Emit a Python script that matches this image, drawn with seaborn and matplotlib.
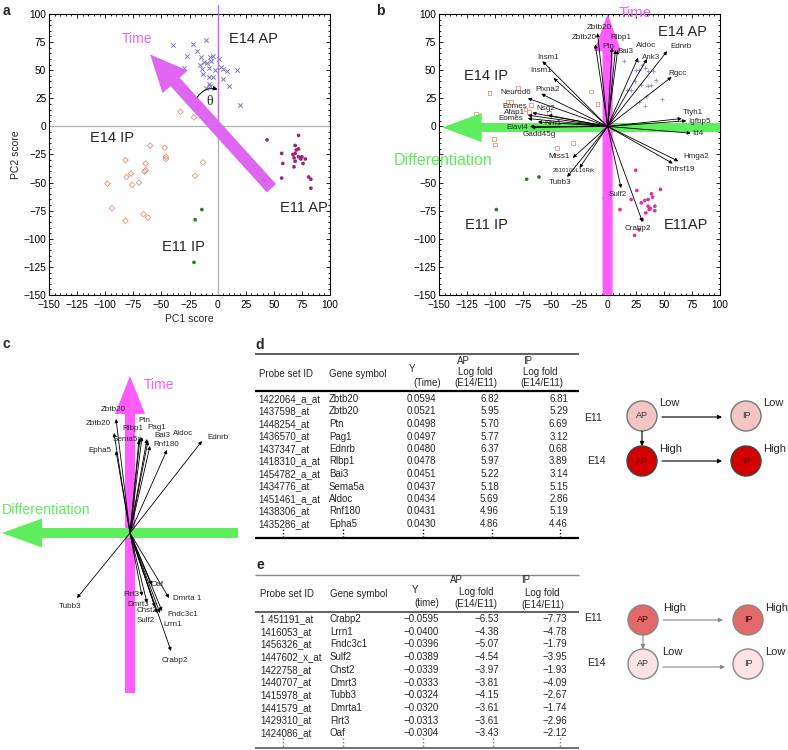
import numpy as np
import pandas as pd
import matplotlib
matplotlib.use('Agg')
import matplotlib.pyplot as plt
import seaborn as sns
from matplotlib.patches import Circle
from matplotlib.ticker import MultipleLocator

# %%
######################################################### data
# panel a : PCA scores
e14ap_a_x = [-40, -22, -10, -18, -15, -27, -7, -12, -9, -4, -6, -30, -14, -16, -8, -2, 1, 3, 5, 8, -13, -8, -4, 5, 17, 10, -7, -10, 20, -8]
e14ap_a_y = [72, 73, 77, 67, 62, 63, 62, 57, 56, 63, 58, 52, 51, 55, 52, 50, 60, 53, 51, 49, 47, 44, 44, 42, 50, 36, 36, 34, 19, 38]
e14ip_a_x = [-33, -21, -16, -47, -60, -46, -46, -13, -20, -82, -64, -64, -65, -77, -81, -76, -70, -98, -94, -66, -62, -82]
e14ip_a_y = [13, 8, 20, -19, -17, -27, -29, -32, -44, -30, -33, -39, -40, -42, -45, -52, -50, -51, -73, -78, -81, -84]
e11ap_a_x = [44, 72, 57, 58, 69, 70, 68, 69, 72, 72, 74, 75, 78, 76, 68, 57, 81, 83, 83, 41, 69, 67]
e11ap_a_y = [-12, -8, -24, -33, -17, -21, -28, -24, -20, -27, -29, -27, -29, -33, -36, -46, -45, -47, -55, -48, -31, -25]
e11ip_a_x = [-14, -20, -21]
e11ip_a_y = [-74, -83, -121]

# panel b : biplot scores
e14ap_b_x = [15, 25, 28, 33, 36, 40, 43, 48, 24, 30, 36, 39, 34, 28, 33, 17, 21, 27, 31]
e14ap_b_y = [58, 50, 50, 52, 49, 49, 41, 24, 40, 37, 36, 37, 27, 22, 18, 32, 32, 58, 55]
e14ip_b_x = [-80, -105, -89, -86, -68, -73, -70, -52, -15, -9, -117, -101, -100, -45, -31, -116]
e14ip_b_y = [34, 30, 22, 22, 19, 15, 13, 12, 31, 20, 11, -11, -16, -19, -15, -5]
e11ap_b_x = [25, 26, -3, 21, 11, 30, 33, 36, 39, 40, 36, 38, 42, 34, 42, 47, 31, 24, 28, 37]
e11ap_b_y = [-39, -57, -64, -65, -74, -68, -66, -65, -60, -63, -71, -73, -71, -77, -75, -56, -83, -97, -92, -74]
e11ip_b_x = [-72, -61, -99]
e11ip_b_y = [-47, -45, -74]

# panel b : gene loadings (tips)
genes_b = ['Zbtb20', 'Zbtb20', 'Ptn', 'Rlbp1', 'Bai3', 'Aldoc', 'Ank3', 'Ednrb', 'Rgcc', 'Ttyh1',
           'Igfbp5', 'Id4', 'Hmga2', 'Tnfrsf19', 'Crabp2', 'Sulf2', 'Tubb3', '2610100L16Rik', 'Mtss1',
           'Gadd45g', 'Elavl4', 'Eomes', 'Eomes', 'Afap1', 'Nsg2', 'Nrn1', 'Neurod6', 'Plxna2', 'Insm1', 'Insm1']
load_b_x = [-9, -11, 4, 7, 9, 27, 35, 53, 57, 66, 70, 74, 63, 58, 31, 12, -36, -25, -31,
            -68, -69, -71, -71, -67, -53, -62, -71, -59, -58, -48]
load_b_y = [83, 73, 70, 68, 68, 61, 60, 67, 44, 7, 5, -6, -31, -33, -85, -55, -45, -37, -28,
            -1, 0, 10, 7, 12, 10, 4, 25, 29, 58, 43]
# label placement (layout)
lab_b = [(-7, 88), (-21, 79), (1, 71), (12, 79), (16, 67), (34, 72), (39, 61), (65, 71), (62, 47), (76, 12),
         (82, 4), (80, -6), (79, -27), (65, -38), (27, -91), (9, -61), (-42, -50), (-30, -39), (-43, -27),
         (-61, -7), (-80, -1), (-83, 18), (-86, 7), (-83, 12), (-55, 16), (-49, 3), (-82, 30), (-53, 33), (-53, 61), (-59, 50)]

# panel c : selected gene loadings
genes_c = ['Zbtb20', 'Zbtb20', 'Epha5', 'Sema5a', 'Rlbp1', 'Ptn', 'Pag1', 'Bai3', 'Rnf180', 'Aldoc', 'Ednrb',
           'Tubb3', 'Flrt3', 'Oaf', 'Dmrta 1', 'Dmrt3', 'Chst2', 'Fndc3c1', 'Lrrn1', 'Sulf2', 'Crabp2']
load_c_x = [-14, -16, -14, 9, 10, 12, 17, 18, 20, 37, 72, -53, 12, 22, 39, 17, 25, 32, 30, 27, 41]
load_c_y = [114, 100, 82, 93, 95, 96, 94, 92, 87, 83, 92, -65, -63, -52, -65, -70, -74, -78, -80, -80, -118]
lab_c = [(-17, 123), (-32, 109), (-30, 82), (-2, 93), (3, 104), (14, 112), (27, 105), (32, 97), (36, 88), (53, 99), (88, 95),
         (-60, -73), (1, -62), (27, -52), (57, -66), (8, -72), (17, -78), (53, -81), (43, -91), (16, -88), (45, -128)]

# tables d / e
probe_d = ['1422064_a_at', '1437598_at', '1448254_at', '1436570_at', '1437347_at', '1418310_a_at',
           '1454782_a_at', '1434776_at', '1451461_a_at', '1438306_at', '1435286_at']
gene_d = ['Zbtb20', 'Zbtb20', 'Ptn', 'Pag1', 'Ednrb', 'Rlbp1', 'Bai3', 'Sema5a', 'Aldoc', 'Rnf180', 'Epha5']
y_d = [0.0594, 0.0521, 0.0498, 0.0497, 0.0480, 0.0478, 0.0451, 0.0437, 0.0434, 0.0431, 0.0430]
ap_d = [6.82, 5.95, 5.70, 5.77, 6.37, 5.97, 5.22, 5.18, 5.69, 4.96, 4.86]
ip_d = [6.81, 5.29, 6.69, 3.12, 0.68, 3.89, 3.14, 5.15, 2.86, 5.19, 4.46]

probe_e = ['1 451191_at', '1416053_at', '1456326_at', '1447602_x_at', '1422758_at', '1440707_at',
           '1415978_at', '1441579_at', '1429310_at', '1424086_at']
gene_e = ['Crabp2', 'Lrrn1', 'Fndc3c1', 'Sulf2', 'Chst2', 'Dmrt3', 'Tubb3', 'Dmrta1', 'Flrt3', 'Oaf']
y_e = [-0.0595, -0.0400, -0.0396, -0.0389, -0.0339, -0.0333, -0.0324, -0.0320, -0.0313, -0.0304]
ap_e = [-6.53, -4.38, -5.07, -4.54, -3.97, -3.81, -4.15, -3.61, -3.61, -3.43]
ip_e = [-7.73, -4.78, -1.79, -3.95, -1.93, -4.09, -2.67, -1.74, -2.96, -2.12]

# %%
######################################################### setup
sns.set_theme(style='white')
plt.rcParams['font.family'] = ['Liberation Sans', 'DejaVu Sans']

W, H = 788, 750
fig = plt.figure(figsize=(W / 100, H / 100), dpi=100)


def rect(l, t, r, b):
    return [l / W, 1 - b / H, (r - l) / W, (b - t) / H]


MAG = '#ff5cff'
GRN = '#5ded5d'


def scatter_group(ax, xs, ys, marker, color, s, hollow=False):
    df = pd.DataFrame({'x': xs, 'y': ys})
    if hollow:
        sns.scatterplot(data=df, x='x', y='y', ax=ax, marker=marker, s=s,
                        facecolors='none', edgecolor=color, linewidth=0.6, zorder=3)
    elif marker in ('x', '+'):
        sns.scatterplot(data=df, x='x', y='y', ax=ax, marker=marker, s=s,
                        color=color, linewidth=0.7, zorder=3)
    else:
        sns.scatterplot(data=df, x='x', y='y', ax=ax, marker=marker, s=s,
                        color=color, edgecolor='none', zorder=3)


def style_pc(ax):
    ax.set_xlim(-150, 100)
    ax.set_ylim(-150, 100)
    ax.set_xticks(np.arange(-150, 101, 25))
    ax.set_yticks(np.arange(-150, 101, 25))
    ax.xaxis.set_minor_locator(MultipleLocator(5))
    ax.yaxis.set_minor_locator(MultipleLocator(5))
    ax.tick_params(which='both', direction='in', top=True, right=True, bottom=True, left=True,
                   labelsize=7.3, pad=2, colors='black', width=0.6)
    ax.tick_params(axis='x', which='major', pad=3.5)
    ax.tick_params(which='major', length=3)
    ax.tick_params(which='minor', length=1.5)
    for sp in ax.spines.values():
        sp.set_color('black')
        sp.set_linewidth(0.8)
    ax.set_xlabel('')
    ax.set_ylabel('')


def draw_vectors(ax, xs, ys, names, labs, fs):
    for x, y, n, (lx, ly) in zip(xs, ys, names, labs):
        ax.annotate('', xy=(x, y), xytext=(0, 0),
                    arrowprops=dict(arrowstyle='-|>', lw=0.6, color='black',
                                    mutation_scale=5, shrinkA=0, shrinkB=0), zorder=6)
        ax.text(lx, ly, n, fontsize=fs if len(n) < 10 else fs - 1.5, ha='center', va='center', zorder=7)


# %%
######################################################### panel a
ax_a = fig.add_axes(rect(49, 14, 330, 295))
ax_a.axhline(0, color='#b0b0b0', lw=0.9, zorder=1)
ax_a.axvline(0, color='#b0b0b0', lw=0.9, zorder=1)
scatter_group(ax_a, e14ap_a_x, e14ap_a_y, 'x', '#7a7ab8', 10)
scatter_group(ax_a, e14ip_a_x, e14ip_a_y, 'D', '#e8907a', 8, hollow=True)
scatter_group(ax_a, e11ap_a_x, e11ap_a_y, 'o', '#a0207a', 7)
scatter_group(ax_a, e11ip_a_x, e11ip_a_y, 'o', '#2a7a2a', 7)
style_pc(ax_a)
ax_a.arrow(48, -55, -108, 119, width=11, head_width=30, head_length=33,
           length_includes_head=True, fc='#dd5ef0', ec='none', alpha=0.95, zorder=4)
ax_a.plot([0, 0], [6, 108], color='#cc66ee', lw=1, clip_on=False, zorder=5)
ax_a.annotate('', xy=(0, 33), xytext=(-18, 26),
              arrowprops=dict(arrowstyle='-|>', lw=0.7, color='black', mutation_scale=6,
                              connectionstyle='arc3,rad=-0.35', shrinkA=0, shrinkB=0), zorder=6)
ax_a.text(-7, 22, 'θ', fontsize=10, family=['Liberation Serif', 'DejaVu Serif'], ha='center', va='center')
ax_a.text(-72, 78, 'Time', fontsize=10, color='#ee66ff', ha='center', va='center')
ax_a.text(32, 78, 'E14 AP', fontsize=10.5, ha='center', va='center')
ax_a.text(-94, -10, 'E14 IP', fontsize=10.5, ha='center', va='center')
ax_a.text(77, -73, 'E11 AP', fontsize=10.5, ha='center', va='center')
ax_a.text(-30, -107, 'E11 IP', fontsize=10.5, ha='center', va='center')
ax_a.set_xlabel('PC1 score', fontsize=7.5, labelpad=3)
ax_a.set_ylabel('PC2 score', fontsize=7.5, labelpad=2)

# %%
######################################################### panel b
ax_b = fig.add_axes(rect(439, 14, 720, 295))
scatter_group(ax_b, e14ap_b_x, e14ap_b_y, '+', '#9a9ad8', 12)
scatter_group(ax_b, e14ip_b_x, e14ip_b_y, 's', '#f09080', 7, hollow=True)
scatter_group(ax_b, e11ap_b_x, e11ap_b_y, 'o', '#e0309a', 7)
scatter_group(ax_b, e11ip_b_x, e11ip_b_y, 'o', '#2a7a2a', 7)
style_pc(ax_b)
# the -25 label is hidden behind "Differentiation" in the original
ax_b.set_yticks(np.arange(-150, 101, 25))
ax_b.set_yticklabels(['' if v == -25 else f'{v}'.replace('-', '\u2212') for v in range(-150, 101, 25)])
ax_b.arrow(100, -1, -247, 0, width=8, head_width=26, head_length=35,
           length_includes_head=True, fc=GRN, ec='none', zorder=4)
ax_b.arrow(0, -150, 0, 250, width=9, head_width=24, head_length=33,
           length_includes_head=True, fc=MAG, ec='none', zorder=4, clip_on=False)
draw_vectors(ax_b, load_b_x, load_b_y, genes_b, lab_b, 5.8)
ax_b.text(25, 101, 'Time', fontsize=11, color=MAG, ha='center', va='center', clip_on=False, zorder=8)
ax_b.text(-146, -30, 'Differentiation', fontsize=11.5, color=GRN, ha='center', va='center', clip_on=False, zorder=8)
ax_b.text(67, 84, 'E14 AP', fontsize=10.5, ha='center', va='center')
ax_b.text(-108, 45, 'E14 IP', fontsize=10.5, ha='center', va='center')
ax_b.text(-108, -88, 'E11 IP', fontsize=10.5, ha='center', va='center')
ax_b.text(70, -88, 'E11AP', fontsize=10.5, ha='center', va='center')

# %%
######################################################### panel c
ax_c = fig.add_axes(rect(0, 330, 240, 750))
ax_c.set_xlim(-130, 110)
ax_c.set_ylim(-217, 203)
ax_c.axis('off')
ax_c.arrow(0, -160, 0, 317, width=10, head_width=30, head_length=38,
           length_includes_head=True, fc=MAG, ec='none', zorder=2)
ax_c.arrow(108, 0, -236, 0, width=10, head_width=29, head_length=40,
           length_includes_head=True, fc=GRN, ec='none', zorder=3)
draw_vectors(ax_c, load_c_x, load_c_y, genes_c, lab_c, 5.8)
ax_c.text(29, 148, 'Time', fontsize=10, color=MAG, ha='center', va='center')
ax_c.text(-84, 23, 'Differentiation', fontsize=10.3, color=GRN, ha='center', va='center')

# %%
######################################################### tables & diagrams (pixel overlay)
ax_t = fig.add_axes([0, 0, 1, 1])
ax_t.set_xlim(0, W)
ax_t.set_ylim(H, 0)
ax_t.axis('off')
ax_t.patch.set_alpha(0)

fs_t = 7


def hline(y, c, lw):
    ax_t.plot([255, 579], [y, y], color=c, lw=lw, solid_capstyle='butt')


def fmt(v, n):
    return f'{v:.{n}f}'.replace('-', '\u2212')


# table d
hline(354, '#333333', 1.1)
hline(391, 'black', 1.6)
hline(538, 'black', 1.6)
for txt, x, y, ha in [('Probe set ID', 259, 374, 'left'), ('Gene symbol', 329, 374, 'left'),
                      ('Y', 412, 369, 'center'), ('(Time)', 427, 383, 'center'),
                      ('AP', 457, 361, 'left'), ('Log fold', 475, 372, 'center'), ('(E14/E11)', 476, 383, 'center'),
                      ('IP', 523, 361, 'left'), ('Log fold', 540, 372, 'center'), ('(E14/E11)', 542, 383, 'center')]:
    ax_t.text(x, y, txt, fontsize=fs_t, ha=ha, va='center')
for i in range(len(probe_d)):
    y = 399 + 12.5 * i
    ax_t.text(258, y, probe_d[i], fontsize=fs_t, ha='left', va='center')
    ax_t.text(329, y, gene_d[i], fontsize=fs_t, ha='left', va='center')
    ax_t.text(407, y, fmt(y_d[i], 4), fontsize=fs_t, ha='left', va='center')
    ax_t.text(499, y, fmt(ap_d[i], 2), fontsize=fs_t, ha='right', va='center')
    ax_t.text(568, y, fmt(ip_d[i], 2), fontsize=fs_t, ha='right', va='center')
for x in [283, 343, 423, 492, 560]:
    ax_t.plot([x, x], [529, 537], color='black', lw=1, ls=(0, (1, 1.5)))

# table e
hline(575, '#888888', 1.0)
hline(612, '#555555', 1.3)
hline(748, '#666666', 1.3)
for txt, x, y, ha in [('Probe set ID', 260, 594, 'left'), ('Gene symbol', 330, 594, 'left'),
                      ('Y', 415, 590, 'center'), ('(time)', 427, 603, 'center'),
                      ('AP', 450, 580, 'left'), ('Log fold', 476, 592, 'center'), ('(E14/E11)', 476, 604, 'center'),
                      ('IP', 521, 580, 'left'), ('Log fold', 542, 593, 'center'), ('(E14/E11)', 543, 605, 'center')]:
    ax_t.text(x, y, txt, fontsize=fs_t, ha=ha, va='center')
for i in range(len(probe_e)):
    y = 619 + 12.7 * i
    ax_t.text(260, y, probe_e[i], fontsize=fs_t, ha='left', va='center')
    ax_t.text(330, y, gene_e[i], fontsize=fs_t, ha='left', va='center')
    ax_t.text(439, y, fmt(y_e[i], 4), fontsize=fs_t, ha='right', va='center')
    ax_t.text(499, y, fmt(ap_e[i], 2), fontsize=fs_t, ha='right', va='center')
    ax_t.text(567, y, fmt(ip_e[i], 2), fontsize=fs_t, ha='right', va='center')
for x in [283, 343, 423, 493, 560]:
    ax_t.plot([x, x], [738, 747], color='#777777', lw=1, ls=(0, (1, 1.5)))


# diagrams
def cell(x, y, fc, ec, label, tc):
    ax_t.add_patch(Circle((x, y), 15, fc=fc, ec=ec, lw=1))
    ax_t.text(x, y, label, fontsize=6.5, color=tc, ha='center', va='center')


def arr(x0, y0, x1, y1, c):
    ax_t.annotate('', xy=(x1, y1), xytext=(x0, y0),
                  arrowprops=dict(arrowstyle='-|>', lw=0.8, color=c, mutation_scale=6, shrinkA=0, shrinkB=0))


cell(642, 416, '#f4c5c5', '#777777', 'AP', '#333333')
cell(746, 416, '#f4c5c5', '#777777', 'IP', '#333333')
cell(642, 461, '#d40000', '#444444', 'AP', '#6a0000')
cell(746, 461, '#d40000', '#444444', 'IP', '#6a0000')
arr(662, 417, 722, 417, 'black')
arr(662, 461, 722, 461, 'black')
arr(642, 431, 642, 446, 'black')
for txt, x, y in [('Low', 659, 403), ('Low', 763, 403), ('High', 659, 449), ('High', 763, 449)]:
    ax_t.text(x, y, txt, fontsize=8, ha='left', va='center')
ax_t.text(593, 418, 'E11', fontsize=7.5, ha='center', va='center')
ax_t.text(596, 461, 'E14', fontsize=7.5, ha='center', va='center')

cell(643, 620, '#e26a6a', '#888888', 'AP', '#3a0000')
cell(748, 620, '#e26a6a', '#888888', 'IP', '#3a0000')
cell(643, 664, '#fbe3e3', '#888888', 'AP', '#333333')
cell(748, 664, '#fbe3e3', '#888888', 'IP', '#333333')
arr(663, 620, 723, 620, '#888888')
arr(663, 667, 725, 667, '#888888')
arr(643, 635, 643, 649, '#888888')
for txt, x, y in [('High', 663, 608), ('High', 765, 608), ('Low', 662, 652), ('Low', 765, 652)]:
    ax_t.text(x, y, txt, fontsize=8, ha='left', va='center')
ax_t.text(593, 618, 'E11', fontsize=7.5, ha='center', va='center')
ax_t.text(596, 663, 'E14', fontsize=7.5, ha='center', va='center')

# panel letters
for lt, x, y in [('a', 3, 11), ('b', 376, 11), ('c', 3, 344), ('d', 255, 345), ('e', 257, 565)]:
    ax_t.text(x, y, lt, fontsize=10, fontweight='bold', ha='left', va='center')

fig.savefig('out.png', dpi=100)
